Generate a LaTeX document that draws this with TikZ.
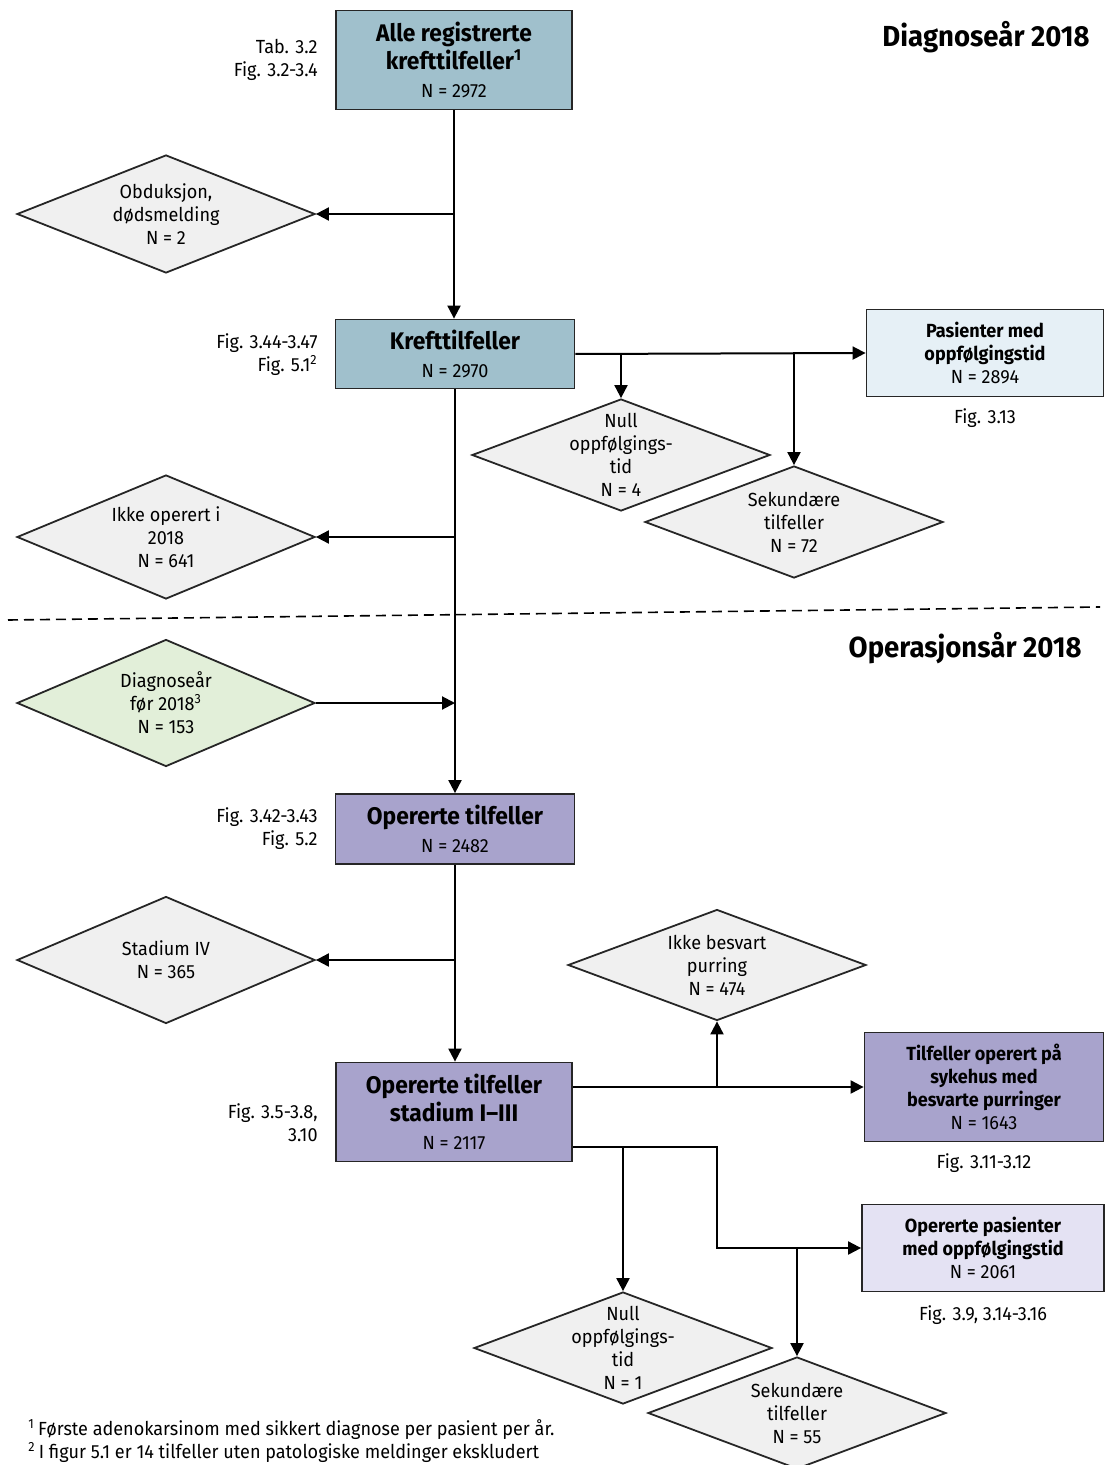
\documentclass[tikz,border=0pt]{standalone}
\usepackage{fontspec}
\setmainfont{Fira Sans}[FakeStretch=0.95]
\usetikzlibrary{arrows.meta, positioning, calc, shapes.geometric}

\definecolor{steel}{HTML}{A0C0CC}
\definecolor{paleblue}{HTML}{E6F0F6}
\definecolor{lavender}{HTML}{A8A3CC}
\definecolor{palelav}{HTML}{E4E2F3}
\definecolor{greyfill}{HTML}{F0F0F0}
\definecolor{palegreen}{HTML}{E2EFD9}

\newcommand\ttlfont{\fontsize{12}{14}\selectfont\bfseries}
\newcommand\midfont{\fontsize{9.5}{11.5}\selectfont\bfseries}
\newcommand\nfont{\fontsize{9.5}{11.5}\selectfont\mdseries}

\begin{document}
\begin{tikzpicture}[
  x=0.5pt, y=-0.5pt,
  every node/.style={font=\nfont},
  box/.style={
    rectangle, draw=black!85, line width=0.9pt,
    align=center, inner sep=2pt,
  },
  dia/.style={
    diamond, draw=black!85, line width=0.9pt, fill=greyfill,
    minimum width=149pt, inner sep=0pt,
  },
  dtext/.style={align=center, inner sep=0pt},
  flow/.style={-{Triangle[length=6.5pt, width=6.5pt]}, line width=1pt},
  ref/.style={align=right, anchor=east, inner sep=0pt},
  head/.style={font=\fontsize{14.5}{16}\selectfont\bfseries, anchor=east, inner sep=0pt},
]
  \useasboundingbox (0,0) rectangle (1104,1465);

  % diagnosis year part
  \node[box, fill=steel, minimum width=118pt, minimum height=49.5pt, font=\ttlfont] (alle) at (454,60)
    {Alle registrerte\\krefttilfeller\textsuperscript{1}\\{\nfont N = 2972}};
  \node[ref] (alleref) at (318,60) {Tab. 3.2\\Fig. 3.2-3.4};
  \node[head] (diagyr) at (1090,37) {Diagnoseår 2018};

  \node[dia, minimum height=59pt, label={[dtext]center:{Obduksjon,\\dødsmelding\\N = 2}}] (obd) at (166,214) {};

  \node[box, fill=steel, minimum width=119.5pt, minimum height=34.5pt, font=\ttlfont] (kreft) at (455,354)
    {Krefttilfeller\\{\nfont N = 2970}};
  \node[ref] (kreftref) at (318,355) {Fig. 3.44-3.47\\Fig. 5.1\textsuperscript{2}};

  \node[box, fill=paleblue, minimum width=118.5pt, minimum height=43.5pt, font=\midfont] (pas) at (985,353)
    {Pasienter med\\oppfølgingstid\\{\nfont N = 2894}};
  \node (pasref) at (985,418) {Fig. 3.13};

  \node[dia, minimum height=56pt, label={[dtext]center:{Null\\oppfølgings-\\tid\\N = 4}}] (null1) at (621,455) {};
  \node[dia, minimum height=56pt, label={[dtext]center:{Sekundære\\tilfeller\\N = 72}}] (sek1) at (794,522) {};
  \node[dia, minimum height=62pt, label={[dtext]center:{Ikke operert i\\2018\\N = 641}}] (ikkeop) at (166,537) {};

  % split
  \coordinate (dashl) at (8,620);
  \coordinate (dashr) at (1100,607);
  \draw[dashed, dash pattern=on 5pt off 3pt, line width=0.8pt] (dashl) -- (dashr);

  % operation year part
  \node[head] (opyr) at (1082,648) {Operasjonsår 2018};

  \node[dia, fill=palegreen, minimum height=63.5pt, label={[dtext]center:{Diagnoseår\\før 2018\textsuperscript{3}\\N = 153}}] (diagf) at (166,703) {};

  \node[box, fill=lavender, minimum width=119.5pt, minimum height=35pt, font=\ttlfont] (oper) at (455,829)
    {Opererte tilfeller\\{\nfont N = 2482}};
  \node[ref] (operref) at (318,829) {Fig. 3.42-3.43\\Fig. 5.2};

  \node[dia, minimum height=63.5pt, label={[dtext]center:{Stadium IV\\N = 365}}] (st4) at (166,960) {};

  \node[box, fill=lavender, minimum width=118pt, minimum height=49.5pt, font=\ttlfont] (stad) at (454,1112)
    {Opererte tilfeller\\stadium I–III\\{\nfont N = 2117}};
  \node[ref] (stadref) at (318,1123) {Fig. 3.5-3.8,\\3.10};

  \node[dia, minimum height=55.5pt, label={[dtext]center:{Ikke besvart\\purring\\N = 474}}] (ikkeb) at (717,965) {};

  \node[box, fill=lavender, minimum width=119.5pt, minimum height=54.5pt, font=\midfont] (tilf) at (984,1087)
    {Tilfeller operert på\\sykehus med\\besvarte purringer\\{\nfont N = 1643}};
  \node (tilfref) at (984,1163) {Fig. 3.11-3.12};

  \node[box, fill=palelav, minimum width=121pt, minimum height=43.5pt, font=\midfont] (oppf) at (983,1248)
    {Opererte pasienter\\med oppfølgingstid\\{\nfont N = 2061}};
  \node (oppfref) at (983,1315) {Fig. 3.9, 3.14-3.16};

  \node[dia, minimum height=56pt, label={[dtext]center:{Null\\oppfølgings-\\tid\\N = 1}}] (null2) at (623,1348) {};
  \node[dia, minimum height=56pt, label={[dtext]center:{Sekundære\\tilfeller\\N = 55}}] (sek2) at (797,1413) {};

  \node[anchor=west, align=left, inner sep=0pt] (notes) at (28,1441)
    {\textsuperscript{1}\,Første adenokarsinom med sikkert diagnose per pasient per år.\\
     \textsuperscript{2}\,I figur 5.1 er 14 tilfeller uten patologiske meldinger ekskludert};

  % connectors
  \draw[flow] (alle.south) -- (alle.south |- kreft.north);
  \draw[flow] (alle.south |- obd.east) -- (obd.east);
  \draw[flow] (kreft.east) -- (pas.west);
  \draw[flow] (kreft.east -| null1.north) -- (null1.north);
  \draw[flow] (kreft.east -| sek1.north) -- (sek1.north);
  \draw[flow] (kreft.south) -- (oper.north);
  \draw[flow] (kreft.south |- ikkeop.east) -- (ikkeop.east);
  \draw[flow] (diagf.east) -- (kreft.south |- diagf.east);
  \draw[flow] (oper.south) -- (oper.south |- stad.north);
  \draw[flow] (oper.south |- st4.east) -- (st4.east);

  \draw[flow] (stad.east |- tilf.west) -- (tilf.west);
  \draw[flow] (tilf.west -| ikkeb.south) -- (ikkeb.south);
  \coordinate (stadlo) at ($(stad.east)+(0,35)$);
  \coordinate (bend) at (ikkeb.south |- oppf.west);
  \draw[flow] (stadlo) -| (bend) -- (oppf.west);
  \draw[flow] (stadlo -| null2.north) -- (null2.north);
  \draw[flow] (oppf.west -| sek2.north) -- (sek2.north);
\end{tikzpicture}
\end{document}
